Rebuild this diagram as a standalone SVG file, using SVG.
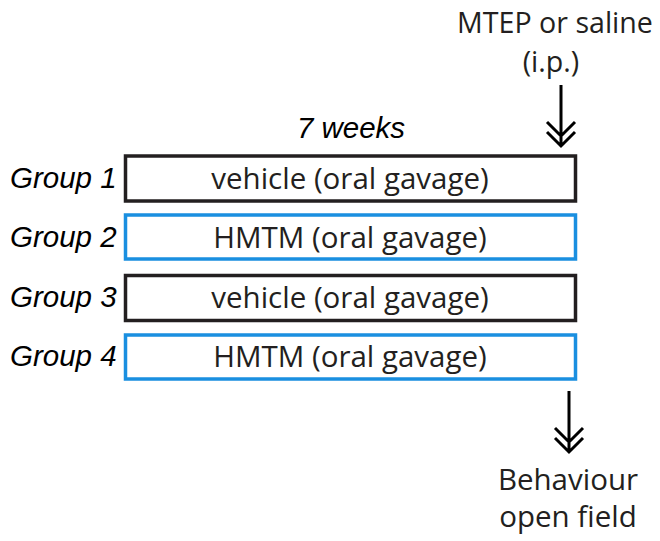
<svg xmlns="http://www.w3.org/2000/svg" width="660" height="541" viewBox="0 0 660 541">
<style>
.lbl{font-family:"Open Sans","Noto Sans",sans-serif;fill:#231f20;text-anchor:middle;font-size:29.5px}
.grp{font-family:"Liberation Sans",Arial,sans-serif;font-style:italic;fill:#000;font-size:29.5px}
.box{fill:#fff;stroke-width:3.5}
.blk{stroke:#231f20}
.blu{stroke:#1a8fe0}
.arr{stroke:#000;stroke-width:3;fill:none}
</style>
<rect width="660" height="541" fill="#fff"/>
<g id="top-label">
<text class="lbl" x="555" y="33" style="font-size:28.6px">MTEP or saline</text>
<text class="lbl" x="551" y="72" style="font-size:28.6px">(i.p.)</text>
</g>
<g id="duration">
<text class="grp" x="351" y="138" text-anchor="middle">7 weeks</text>
</g>
<g id="group1">
<text class="grp" x="10" y="188">Group 1</text>
<rect class="box blk" x="125.5" y="156" width="450" height="45"/>
<text class="lbl" x="350" y="189">vehicle (oral gavage)</text>
</g>
<g id="group2">
<text class="grp" x="10" y="247">Group 2</text>
<rect class="box blu" x="125.5" y="215" width="450" height="44"/>
<text class="lbl" x="350" y="248">HMTM (oral gavage)</text>
</g>
<g id="group3">
<text class="grp" x="10" y="307">Group 3</text>
<rect class="box blk" x="125.5" y="275.5" width="450" height="45"/>
<text class="lbl" x="350" y="308">vehicle (oral gavage)</text>
</g>
<g id="group4">
<text class="grp" x="10" y="366">Group 4</text>
<rect class="box blu" x="125.5" y="335" width="450" height="44"/>
<text class="lbl" x="350" y="367">HMTM (oral gavage)</text>
</g>
<g id="bottom-label">
<text class="lbl" x="568" y="490">Behaviour</text>
<text class="lbl" x="568" y="527">open field</text>
</g>
<g id="connectors">
<path class="arr" d="M561 85V146M547 122L561 136L575 122M547 132L561 146L575 132"/>
<path class="arr" d="M569 391V452M555 428L569 442L583 428M555 438L569 452L583 438"/>
</g>
</svg>
